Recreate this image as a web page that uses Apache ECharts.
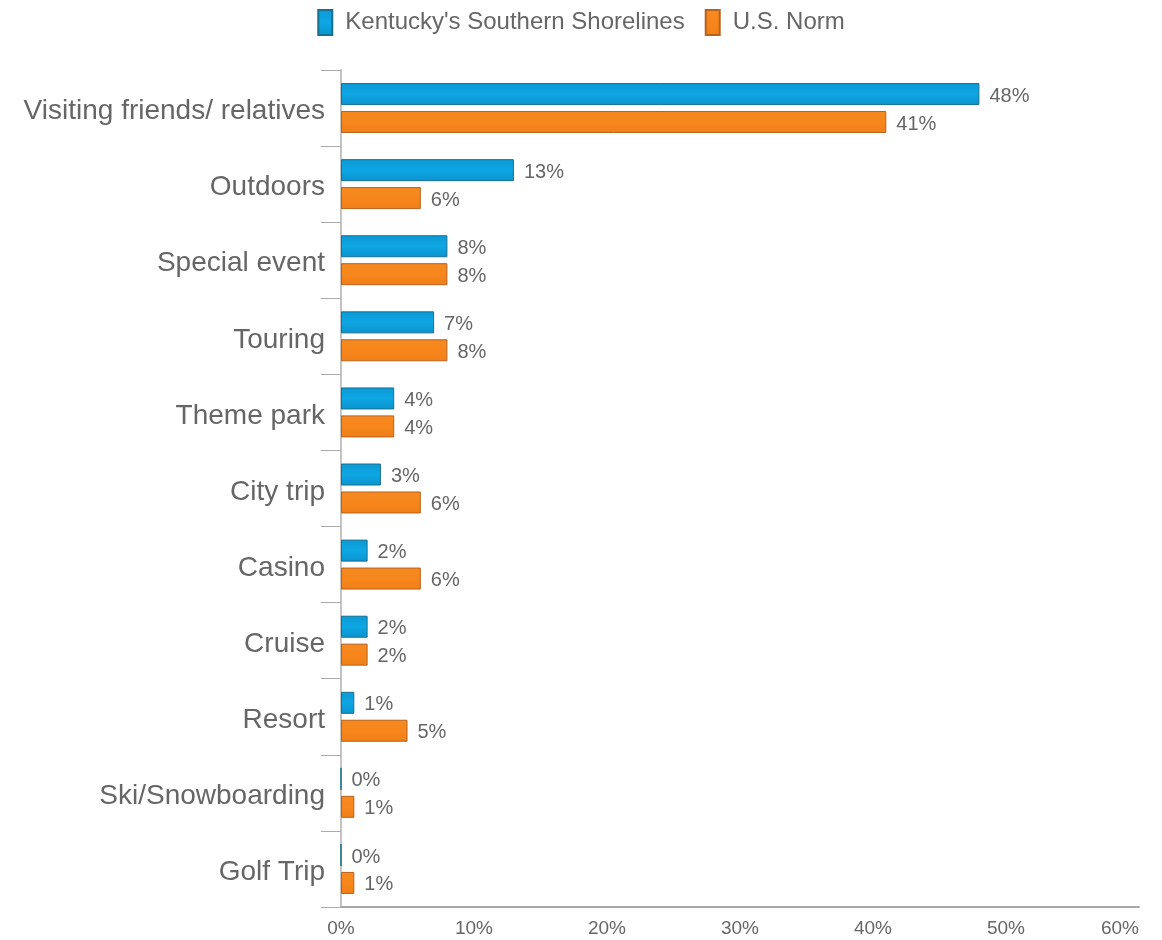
<!DOCTYPE html>
<html>
<head>
<meta charset="utf-8">
<title>Trip purpose</title>
<script src="https://cdn.jsdelivr.net/npm/echarts@6/dist/echarts.min.js"></script>
<style>
  html, body { margin: 0; padding: 0; background: #fff; }
  #chart { width: 1162px; height: 940px; }
</style>
</head>
<body>
<div id="chart"></div>
<script>
// Main purpose of trip, share of visitors
const categories = [
  'Visiting friends/ relatives', 'Outdoors', 'Special event', 'Touring',
  'Theme park', 'City trip', 'Casino', 'Cruise', 'Resort',
  'Ski/Snowboarding', 'Golf Trip'
];
const kentuckyValues = [48, 13, 8, 7, 4, 3, 2, 2, 1, 0, 0];
const usNormValues = [41, 6, 8, 8, 4, 6, 6, 2, 5, 1, 1];
const seriesNames = ["Kentucky's Southern Shorelines", 'U.S. Norm'];

const labelFont = "'Liberation Sans', Arial, sans-serif";

function barGradient(top, mid, bottom) {
  return new echarts.graphic.LinearGradient(0, 0, 0, 1, [
    { offset: 0, color: top },
    { offset: 0.5, color: mid },
    { offset: 1, color: bottom }
  ]);
}

const valueLabel = {
  show: true, position: 'right', distance: 10,
  formatter: '{c}%', fontSize: 20, color: '#666', fontFamily: labelFont,
  offset: [0, 2]
};

const chart = echarts.init(document.getElementById('chart'));
chart.setOption({
  animation: false,
  textStyle: { fontFamily: labelFont },
  legend: {
    top: 4,
    left: 'center',
    itemGap: 20,
    itemWidth: 14,
    itemHeight: 25,
    icon: 'rect',
    textStyle: {
      fontSize: 24, color: '#666', fontFamily: labelFont,
      padding: [0, 0, 0, 8]
    },
    data: seriesNames
  },
  grid: { left: 341, right: 23, top: 70, bottom: 33, containLabel: false },
  xAxis: {
    type: 'value',
    min: 0,
    max: 60,
    interval: 10,
    axisLine: { show: true, lineStyle: { color: '#a8a8a8', width: 2 } },
    axisTick: { show: false },
    splitLine: { show: false },
    axisLabel: {
      formatter: '{value}%', fontSize: 19, color: '#666', margin: 12,
      fontFamily: labelFont, alignMaxLabel: 'right'
    }
  },
  yAxis: {
    type: 'category',
    inverse: true,
    data: categories,
    axisLine: { show: true, lineStyle: { color: '#c4c4c4', width: 2 } },
    axisTick: { show: true, length: 20, interval: 0, lineStyle: { color: '#aaa' } },
    axisLabel: {
      margin: 16,
      formatter: (v) => '{cat|' + v + '}',
      rich: {
        cat: {
          fontSize: 28, color: '#666', fontFamily: labelFont,
          padding: [7, 0, 0, 0]
        }
      }
    }
  },
  series: [
    {
      name: seriesNames[0],
      type: 'bar',
      data: kentuckyValues,
      barWidth: 22,
      barGap: '27%',
      itemStyle: {
        color: barGradient('#0a9ad6', '#0fa6e4', '#0a94cf'),
        borderColor: '#17708f',
        borderWidth: 1
      },
      label: valueLabel
    },
    {
      name: seriesNames[1],
      type: 'bar',
      data: usNormValues,
      barWidth: 22,
      itemStyle: {
        color: barGradient('#f58a20', '#f7861c', '#ef7f18'),
        borderColor: '#b8621c',
        borderWidth: 1
      },
      label: valueLabel
    }
  ]
});
</script>
</body>
</html>
